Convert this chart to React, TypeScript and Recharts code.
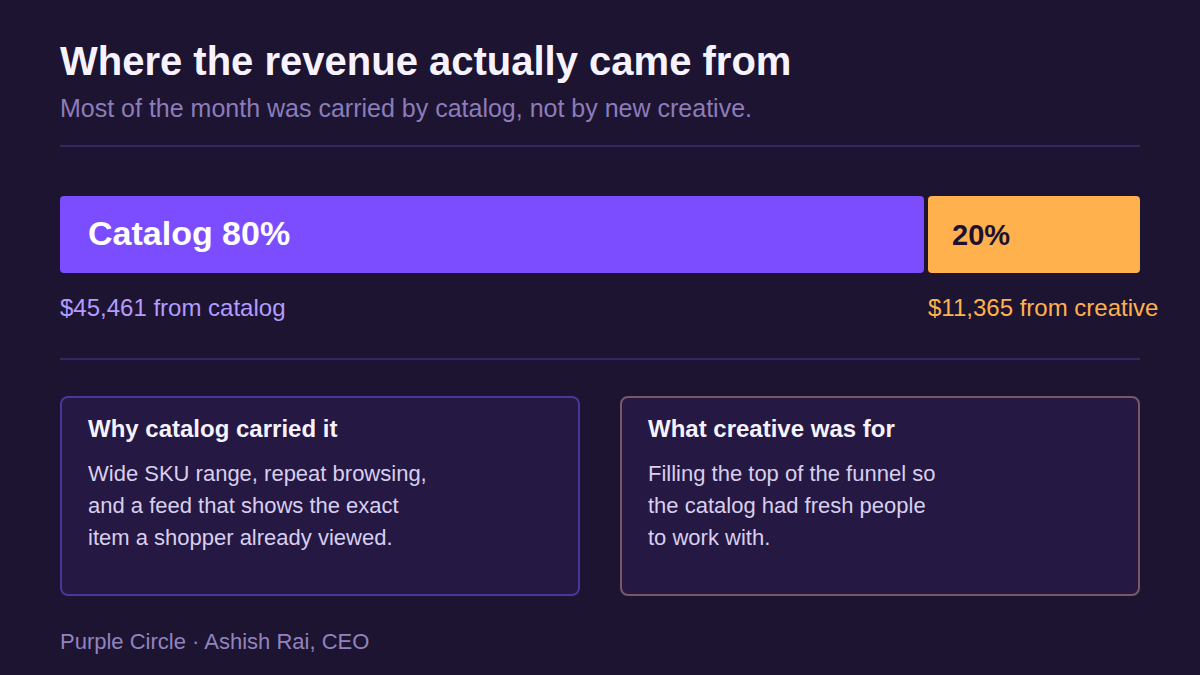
import { BarChart, Bar, XAxis, YAxis, LabelList, Rectangle } from 'recharts';

const FONT = '"Liberation Sans", Arial, Helvetica, sans-serif';

// revenue split
const SEGMENTS = ['Catalog', 'Creative'];
const SHARES = [80, 20];
const AMOUNTS = [45461, 11365];

const BAR_COLORS = ['#7c4dff', '#ffb14e'];
const NOTE_COLORS = ['#b39cff', '#ffb14e'];
const INSIDE_COLORS = ['#ffffff', '#1d1030'];
const INSIDE_SIZES = [34, 29];

const CARD_TITLES = ['Why catalog carried it', 'What creative was for'];
const CARD_LINES = [
  ['Wide SKU range, repeat browsing,', 'and a feed that shows the exact', 'item a shopper already viewed.'],
  ['Filling the top of the funnel so', 'the catalog had fresh people', 'to work with.'],
];
const CARD_BORDERS = ['#4d3595', '#765a63'];

const GAP = 4;
const BAR_H = 77;
const PAD = 4; // recharts keeps a few px inside the band

const row: Record<string, string | number> = { name: 'revenue' };
SEGMENTS.forEach((s, i) => (row[s] = SHARES[i]));
const data = [row];

const makeLabel = (i: number) => (props: any) => {
  const vb = props.viewBox || props;
  const x = Number(vb.x);
  const y = Number(vb.y);
  const h = Number(vb.height);
  const inside = i === 0 ? `${SEGMENTS[i]} ${SHARES[i]}%` : `${SHARES[i]}%`;
  const note = `$${AMOUNTS[i].toLocaleString('en-US')} from ${SEGMENTS[i].toLowerCase()}`;
  return (
    <g>
      <text
        x={x + 28}
        y={y + 49}
        fill={INSIDE_COLORS[i]}
        fontSize={INSIDE_SIZES[i]}
        fontWeight={700}
        fontFamily={FONT}
      >
        {inside}
      </text>
      <text
        x={x + (i === 0 ? 0 : GAP)}
        y={y + h + 43}
        fill={NOTE_COLORS[i]}
        fontSize={24}
        fontFamily={FONT}
      >
        {note}
      </text>
    </g>
  );
};

const Divider = ({ top }: { top: number }) => (
  <div
    style={{
      position: 'absolute',
      left: 60,
      top,
      width: 1080,
      height: 2,
      background: '#372761',
    }}
  />
);

export default function App() {
  return (
    <div
      style={{
        position: 'fixed',
        inset: 0,
        width: 1200,
        height: 675,
        background: '#1c1431',
        fontFamily: FONT,
        overflow: 'hidden',
      }}
    >
      <div
        style={{
          position: 'absolute',
          left: 60,
          top: 41,
          fontSize: 40,
          lineHeight: '40px',
          fontWeight: 700,
          color: '#f6f3ff',
          whiteSpace: 'nowrap',
        }}
      >
        Where the revenue actually came from
      </div>
      <div
        style={{
          position: 'absolute',
          left: 60,
          top: 96,
          fontSize: 25,
          lineHeight: '25px',
          color: '#8c7cb9',
          whiteSpace: 'nowrap',
        }}
      >
        Most of the month was carried by catalog, not by new creative.
      </div>
      <Divider top={145} />

      <div style={{ position: 'absolute', left: 0, top: 196 - PAD }}>
        <BarChart
          width={1200}
          height={BAR_H + 2 * PAD + 60}
          data={data}
          layout="vertical"
          barCategoryGap="0%"
          margin={{ top: 0, right: 60, bottom: 60, left: 60 }}
          style={{ overflow: 'visible' }}
        >
          <XAxis type="number" hide domain={[0, 100]} />
          <YAxis type="category" dataKey="name" hide />
          {SEGMENTS.map((s, i) => (
            <Bar
              key={s}
              dataKey={s}
              stackId="split"
              fill={BAR_COLORS[i]}
              barSize={BAR_H}
              isAnimationActive={false}
              shape={(p: any) => (
                <Rectangle
                  {...p}
                  x={p.x + (i === 0 ? 0 : GAP)}
                  width={p.width - (i === 0 ? 0 : GAP)}
                  radius={4}
                  fill={BAR_COLORS[i]}
                />
              )}
            >
              <LabelList dataKey={s} content={makeLabel(i)} />
            </Bar>
          ))}
        </BarChart>
      </div>

      <Divider top={358} />

      {CARD_TITLES.map((t, i) => (
        <div
          key={t}
          style={{
            position: 'absolute',
            left: 60 + i * 560,
            top: 396,
            width: 520,
            height: 200,
            boxSizing: 'border-box',
            border: `2px solid ${CARD_BORDERS[i]}`,
            borderRadius: 8,
            background: '#251843',
          }}
        >
          <div
            style={{
              position: 'absolute',
              left: 26,
              top: 19,
              fontSize: 24,
              lineHeight: '24px',
              fontWeight: 700,
              color: '#f6f3ff',
              whiteSpace: 'nowrap',
            }}
          >
            {t}
          </div>
          <div
            style={{
              position: 'absolute',
              left: 26,
              top: 60,
              fontSize: 22,
              lineHeight: '32px',
              color: '#d8cfee',
              whiteSpace: 'nowrap',
            }}
          >
            {CARD_LINES[i].map((l) => (
              <div key={l}>{l}</div>
            ))}
          </div>
        </div>
      ))}

      <div
        style={{
          position: 'absolute',
          left: 60,
          top: 631,
          fontSize: 22,
          lineHeight: '22px',
          color: '#9283bd',
          whiteSpace: 'nowrap',
        }}
      >
        Purple Circle · Ashish Rai, CEO
      </div>
    </div>
  );
}
